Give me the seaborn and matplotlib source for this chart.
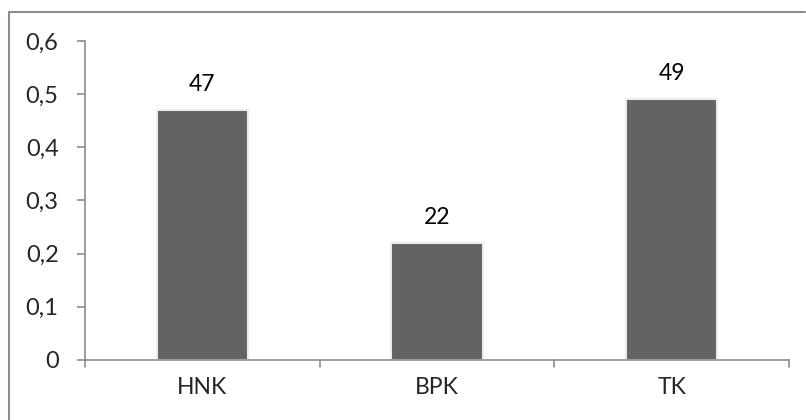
import matplotlib
matplotlib.use("Agg")
import matplotlib.pyplot as plt
import seaborn as sns
from matplotlib.lines import Line2D

# data
categories = ["HNK", "BPK", "TK"]
values = [0.47, 0.22, 0.49]
labels = ["47", "22", "49"]
yticks = [0, 0.1, 0.2, 0.3, 0.4, 0.5, 0.6]
ytick_labels = ["0", "0,1", "0,2", "0,3", "0,4", "0,5", "0,6"]

sns.set_style("white")
plt.rcParams["font.family"] = ["Lato", "DejaVu Sans"]

fig = plt.figure(figsize=(8.06, 4.2), dpi=100)
ax = fig.add_axes([85 / 806, 1 - 360 / 420, (789 - 85) / 806, (360 - 41) / 420])

sns.barplot(x=categories, y=values, color="#636363", width=0.39,
            edgecolor="#ececec", linewidth=1.5, saturation=1, ax=ax)

for i, (v, t) in enumerate(zip(values, labels)):
    ax.text(i, v + 0.048, t, ha="center", va="center", fontsize=16.5, color="black")

ax.set_ylim(0, 0.6)
ax.set_xlim(-0.5, 2.5)
ax.set_yticks(yticks)
ax.set_yticklabels(ytick_labels, fontsize=17)
ax.set_xticks([0, 1, 2])
ax.set_xticklabels(categories, fontsize=16.5)
ax.tick_params(axis="x", length=0, pad=12)
ax.tick_params(axis="y", length=6, width=1.2, color="#8c8c8c", pad=13, left=True)

# category boundary ticks on the x axis
for xb in [-0.5, 0.5, 1.5, 2.5]:
    ax.plot([xb, xb], [0, -0.013], color="#8c8c8c", lw=1.2, clip_on=False)

for s in ["top", "right"]:
    ax.spines[s].set_visible(False)
for s in ["left", "bottom"]:
    ax.spines[s].set_color("#8c8c8c")
    ax.spines[s].set_linewidth(1.2)
ax.set_xlabel("")
ax.set_ylabel("")

# outer chart frame
fig.add_artist(Line2D([9 / 806, 9 / 806], [0, 1 - 12 / 420], color="#8c8c8c", lw=1.5,
                      transform=fig.transFigure))
fig.add_artist(Line2D([9 / 806, 805 / 806], [1 - 12 / 420, 1 - 12 / 420], color="#8c8c8c",
                      lw=1.5, transform=fig.transFigure))

fig.savefig("out.png", dpi=100, facecolor="white")
